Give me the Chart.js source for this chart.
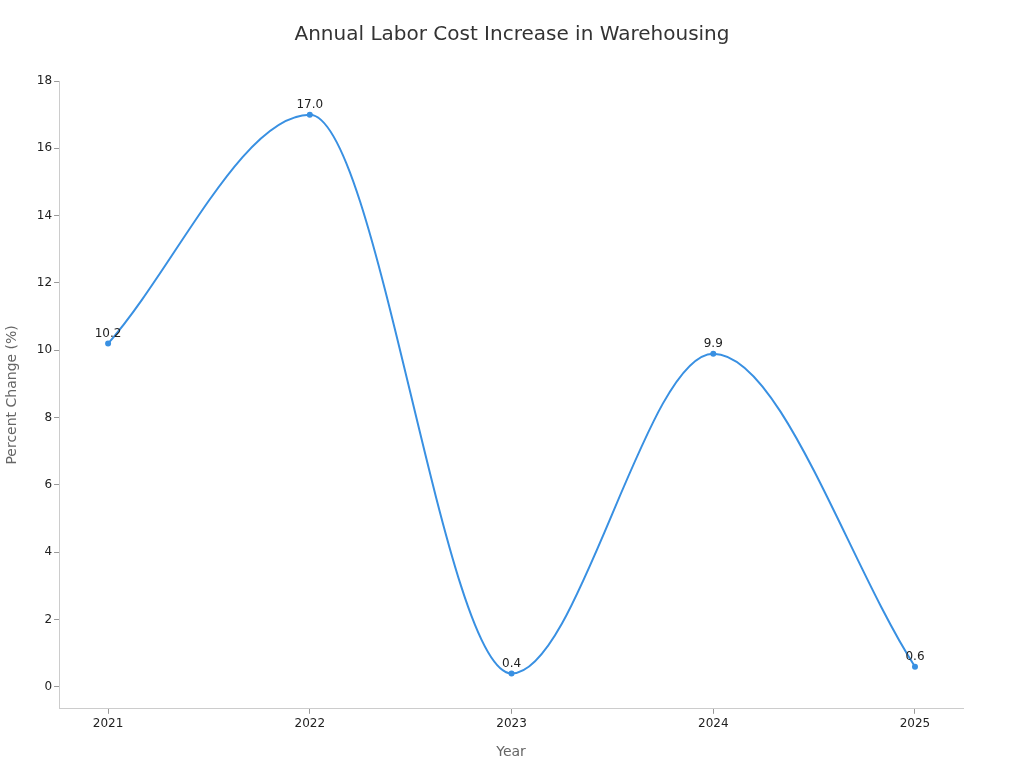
<!DOCTYPE html>
<html>
  <head>
    <meta charset="UTF-8">
    <title>Annual Labor Cost Increase in Warehousing</title>
    <script src="https://cdn.jsdelivr.net/npm/chart.js"></script>
    <style>
      html, body { margin: 0; padding: 0; background: #fff; }
      #wrap { width: 1024px; height: 768px; }
    </style>
  </head>
  <body>
    <div id="wrap"><canvas id="chart"></canvas></div>

    <script>
      // chart data
      var years = [2021, 2022, 2023, 2024, 2025];
      var costIncrease = [10.2, 17.0, 0.4, 9.9, 0.6];
      var yTicks = [0, 2, 4, 6, 8, 10, 12, 14, 16, 18];

      var points = [];
      for (var i = 0; i < years.length; i++) {
        points.push({ x: years[i], y: costIncrease[i] });
      }

      // labels above each point
      var valueLabels = {
        id: 'valueLabels',
        afterDatasetsDraw: function(chart) {
          var ctx = chart.ctx;
          var meta = chart.getDatasetMeta(0);
          ctx.save();
          ctx.font = '12px "DejaVu Sans"';
          ctx.fillStyle = '#222';
          ctx.textAlign = 'center';
          ctx.textBaseline = 'bottom';
          meta.data.forEach(function(pt, i) {
            ctx.fillText(costIncrease[i].toFixed(1), pt.x, pt.y - 4);
          });
          ctx.restore();
        }
      };

      var ctx = document.getElementById('chart').getContext('2d');
      var chart = new Chart(ctx, {
        type: 'line',
        data: {
          datasets: [{
            data: points,
            borderColor: '#3990e2',
            backgroundColor: '#3990e2',
            borderWidth: 2,
            pointRadius: 2,
            pointHoverRadius: 2,
            cubicInterpolationMode: 'monotone',
            fill: false
          }]
        },
        options: {
          responsive: true,
          maintainAspectRatio: false,
          animation: false,
          layout: { padding: { left: 0, right: 0, top: 13, bottom: 3 } },
          plugins: {
            legend: { display: false },
            tooltip: { enabled: false },
            title: {
              display: true,
              text: 'Annual Labor Cost Increase in Warehousing',
              color: '#333',
              font: { family: 'DejaVu Sans', size: 20, weight: 'normal' },
              padding: { top: 10, bottom: 34 }
            }
          },
          scales: {
            x: {
              type: 'linear',
              min: 2020.757,
              max: 2025.238,
              afterBuildTicks: function(axis) {
                axis.ticks = years.map(function(v) { return { value: v }; });
              },
              ticks: {
                color: '#222',
                font: { family: 'DejaVu Sans', size: 12 },
                padding: 3,
                callback: function(v) { return String(v); }
              },
              grid: { display: true, drawOnChartArea: false, tickLength: 5, color: '#999' },
              border: { display: true, color: '#ccc' },
              title: {
                display: true,
                text: 'Year',
                color: '#666',
                font: { family: 'DejaVu Sans', size: 14 },
                padding: { top: 10 }
              }
            },
            y: {
              min: -0.65,
              max: 18,
              afterBuildTicks: function(axis) {
                axis.ticks = yTicks.map(function(v) { return { value: v }; });
              },
              ticks: {
                color: '#222',
                font: { family: 'DejaVu Sans', size: 12 },
                padding: 2
              },
              grid: { display: true, drawOnChartArea: false, tickLength: 5, color: '#999' },
              border: { display: true, color: '#ccc' },
              title: {
                display: true,
                text: 'Percent Change (%)',
                color: '#666',
                font: { family: 'DejaVu Sans', size: 14 },
                padding: { bottom: 14 }
              }
            },
            // empty right axis, only reserves the right margin
            yRight: {
              position: 'right',
              display: true,
              afterFit: function(axis) { axis.width = 61; },
              ticks: { display: false },
              grid: { display: false },
              border: { display: false }
            }
          }
        },
        plugins: [valueLabels]
      });
    </script>
  </body>
</html>
